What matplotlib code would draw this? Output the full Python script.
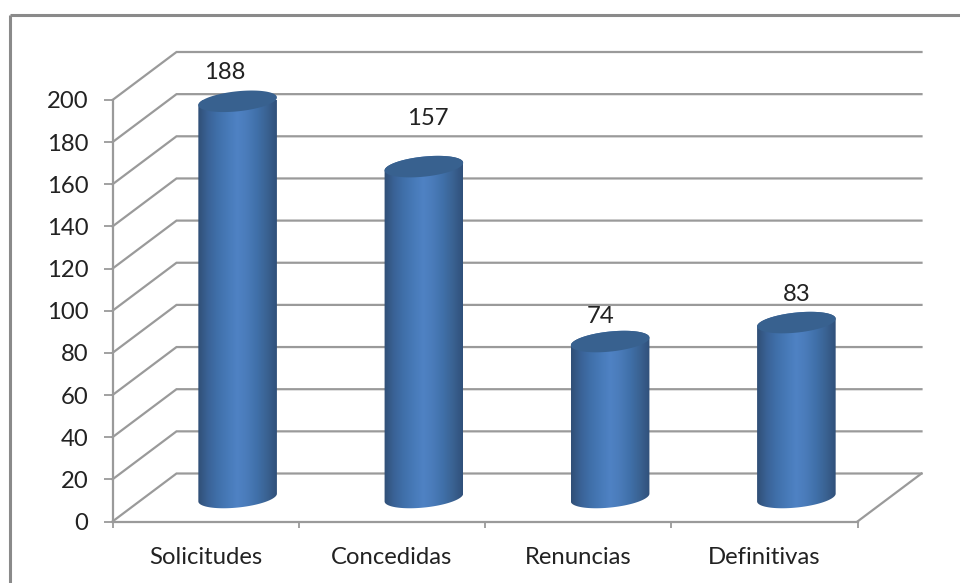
import numpy as np
import matplotlib
matplotlib.use("Agg")
import matplotlib.pyplot as plt
from matplotlib.colors import LinearSegmentedColormap
from matplotlib.lines import Line2D
from matplotlib.patches import PathPatch
from matplotlib.path import Path

categories = ["Solicitudes", "Concedidas", "Renuncias", "Definitivas"]
values = [188, 157, 74, 83]
y_ticks = list(range(0, 201, 20))

# layout in pixels
W, H = 960, 583
LEFT, RIGHT, Y0, Y200 = 112.5, 857.5, 521.5, 100
DEPTH_X, DEPTH_Y = 64, 48
CYL_A, CYL_B, CYL_TILT = 39.5, 10, np.radians(6)
LABEL_OFFSETS = [(-13, 29), (4, 48), (-9, 25), (0, 28)]
GREY = "#9a9a9a"
FONT_SIZE = 17.2

plt.rcParams["font.family"] = ["Lato", "DejaVu Sans"]
fig = plt.figure(figsize=(W / 100, H / 100), dpi=100, facecolor="white")
ax = fig.add_axes([LEFT / W, 1 - Y0 / H, (RIGHT - LEFT) / W, (Y0 - Y200) / H])
ax.set_xlim(-0.5, len(categories) - 0.5)
ax.set_ylim(0, 200)
ax.patch.set_visible(False)

px_x = (RIGHT - LEFT) / len(categories)   # px per category
px_y = (Y0 - Y200) / 200                  # px per value unit
dx, dy = DEPTH_X / px_x, DEPTH_Y / px_y

# outer frame: only top and left visible in the reference
for xs, ys in [((9.5 / W, 1), (1 - 14.5 / H,) * 2), ((9.5 / W,) * 2, (0, 1 - 14.5 / H))]:
    fig.add_artist(Line2D(xs, ys, color="#8a8a8a", lw=2.2, solid_capstyle="butt"))

# walls: back-wall gridlines, side-wall diagonals, floor
x0, x1 = ax.get_xlim()
for v in y_ticks:
    ax.plot([x0, x0 + dx, x1 + dx], [v, v + dy, v + dy], color=GREY, lw=1.6,
            clip_on=False, zorder=1, solid_joinstyle="miter")
ax.plot([x1, x1 + dx], [0, dy], color=GREY, lw=1.6, clip_on=False, zorder=1)

# axes
for s in ("top", "right"):
    ax.spines[s].set_visible(False)
for s in ("left", "bottom"):
    ax.spines[s].set_color(GREY)
    ax.spines[s].set_linewidth(1.6)
ax.set_yticks(y_ticks)
ax.set_xticks(np.arange(len(categories) + 1) - 0.5)
ax.set_xticklabels([])
ax.set_xticks(np.arange(len(categories)), labels=categories, minor=True)
ax.tick_params(axis="y", which="major", length=6.5, width=1.3, color=GREY,
               labelsize=FONT_SIZE, labelcolor="#222222", pad=11)
ax.tick_params(axis="x", which="major", length=4.5, width=1.3, color=GREY)
ax.tick_params(axis="x", which="minor", length=0, labelsize=FONT_SIZE,
               labelcolor="#222222", pad=18)

# cylinders
cyl_cmap = LinearSegmentedColormap.from_list(
    "cyl", ["#304f76", "#3a6296", "#4070aa", "#477ab8", "#4f82c4", "#4a7bb9", "#4070a9", "#3a6292", "#30507a"])
gradient = np.linspace(0, 1, 256).reshape(1, -1)


def ellipse(cx, cy, t):
    """Points on the tilted ellipse, px offsets -> data coordinates."""
    ex = CYL_A * np.cos(t) * np.cos(CYL_TILT) - CYL_B * np.sin(t) * np.sin(CYL_TILT)
    ey = CYL_A * np.cos(t) * np.sin(CYL_TILT) + CYL_B * np.sin(t) * np.cos(CYL_TILT)
    return cx + ex / px_x, cy + ey / px_y


for i, v in enumerate(values):
    cx, base, top = i + dx / 2, dy / 2, v + dy / 2
    bx, by = ellipse(cx, base, np.linspace(np.pi, 2 * np.pi, 60))
    tx, ty = ellipse(cx, top, np.linspace(0, np.pi, 60))
    body = Path(np.column_stack([np.r_[bx, tx], np.r_[by, ty]]), closed=False)
    half_w = CYL_A / px_x
    im = ax.imshow(gradient, cmap=cyl_cmap, aspect="auto", zorder=3,
                   extent=(cx - half_w, cx + half_w, by.min() - 1, ty.max() + 1),
                   interpolation="bilinear", clip_on=True)
    patch = PathPatch(body, transform=ax.transData, fc="none", ec="none")
    ax.add_patch(patch)
    im.set_clip_path(patch)
    ex, ey = ellipse(cx, top, np.linspace(0, 2 * np.pi, 120))
    ax.fill(ex, ey, color="#38618f", lw=0, zorder=4, clip_on=False)
    off = LABEL_OFFSETS[i]
    ax.annotate(str(v), xy=(cx, top), xytext=(off[0] * 0.72, off[1] * 0.72),
                textcoords="offset points", ha="center", va="center",
                fontsize=FONT_SIZE, color="#222222", annotation_clip=False, zorder=5)

ax.set_xlim(x0, x1)
ax.set_ylim(0, 200)
fig.savefig("out.png", dpi=100, facecolor="white")
